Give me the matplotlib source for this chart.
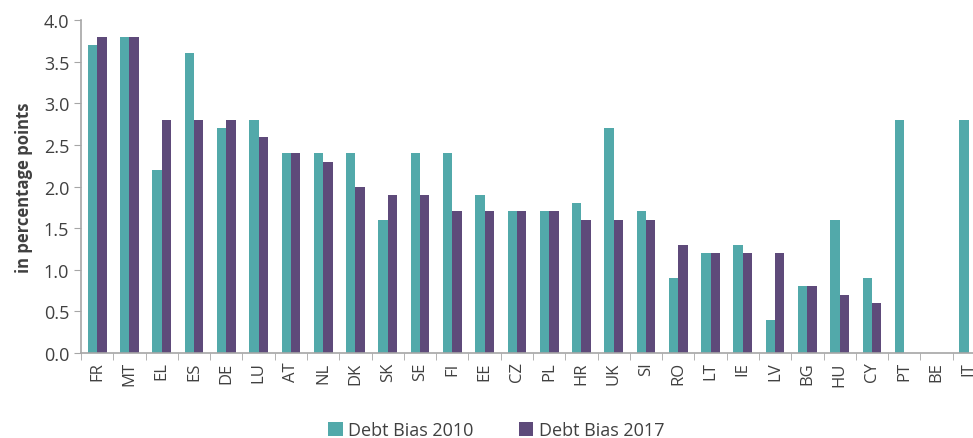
import numpy as np
import matplotlib
matplotlib.use("Agg")
from matplotlib import pyplot as plt

countries = ["FR", "MT", "EL", "ES", "DE", "LU", "AT", "NL", "DK", "SK", "SE", "FI", "EE", "CZ",
             "PL", "HR", "UK", "SI", "RO", "LT", "IE", "LV", "BG", "HU", "CY", "PT", "BE", "IT"]
bias_2010 = [3.7, 3.8, 2.2, 3.6, 2.7, 2.8, 2.4, 2.4, 2.4, 1.6, 2.4, 2.4, 1.9, 1.7,
             1.7, 1.8, 2.7, 1.7, 0.9, 1.2, 1.3, 0.4, 0.8, 1.6, 0.9, 2.8, 0.0, 2.8]
bias_2017 = [3.8, 3.8, 2.8, 2.8, 2.8, 2.6, 2.4, 2.3, 2.0, 1.9, 1.9, 1.7, 1.7, 1.7,
             1.7, 1.6, 1.6, 1.6, 1.3, 1.2, 1.2, 1.2, 0.8, 0.7, 0.6, np.nan, np.nan, np.nan]
yticks = [0.0, 0.5, 1.0, 1.5, 2.0, 2.5, 3.0, 3.5, 4.0]

teal = "#52A9AA"
purple = "#5E4A7A"
grey = "#A6A6A6"
txt = "#404040"

plt.rcParams['font.family'] = ['Open Sans', 'DejaVu Sans']

fig = plt.figure(figsize=(9.73, 4.39), dpi=100)
ax = fig.add_axes([0.0833, 0.1936, 0.929, 0.7585])

x = np.arange(len(countries))
w = 0.29
ax.bar(x - w / 2, bias_2010, w, color=teal, label="Debt Bias 2010")
ax.bar(x + w / 2, bias_2017, w, color=purple, label="Debt Bias 2017")

ax.set_xlim(-0.5, len(countries) - 0.5)
ax.set_ylim(0, 4.0)
ax.set_yticks(yticks)
ax.set_yticklabels([f"{v:.1f}" for v in yticks], fontsize=13, color=txt)
ax.set_xticks(x)
ax.set_xticklabels(countries, rotation=90, fontsize=12, color=txt)
ax.set_xticks(np.arange(len(countries) + 1) - 0.5, minor=True)
ax.tick_params(axis="x", which="major", length=0, pad=6)
ax.tick_params(axis="x", which="minor", length=5, color=grey)
ax.tick_params(axis="y", length=5, color=grey)

for s in ["top", "right"]:
    ax.spines[s].set_visible(False)
for s in ["left", "bottom"]:
    ax.spines[s].set_color(grey)
    ax.spines[s].set_linewidth(1.2)

ax.set_ylabel("in percentage points", fontsize=12, fontweight="bold", color=txt, labelpad=8)

fig.legend(loc="lower center", bbox_to_anchor=(0.51, -0.04), ncol=2, frameon=False,
           fontsize=13, handlelength=0.8, handleheight=0.8, handletextpad=0.3,
           columnspacing=2.5, labelcolor=txt)

fig.savefig("out.png", dpi=100)
